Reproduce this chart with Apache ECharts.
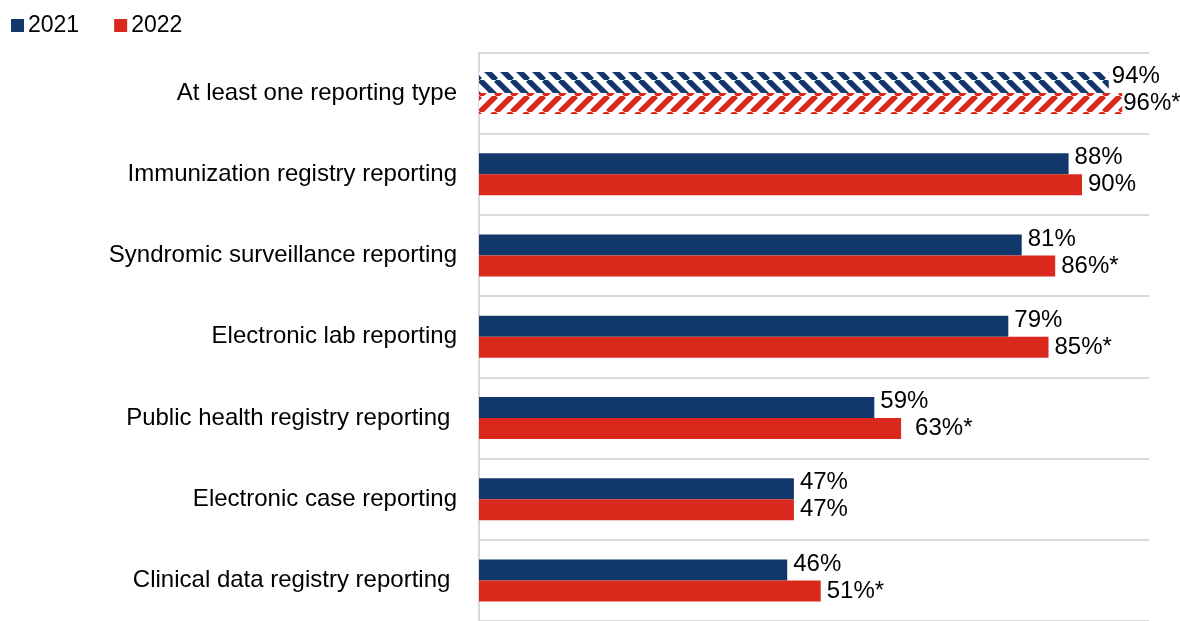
<!DOCTYPE html>
<html lang="en">
<head>
    <meta charset="UTF-8">
    <title>Public health reporting 2021 vs 2022</title>
    <style>
        html, body {
            margin: 0;
            padding: 0;
            width: 100%;
            height: 100%;
            background: #fff;
        }
        #main {
            width: 1180px;
            height: 621px;
        }
    </style>
</head>
<body>
    <div id="main"></div>
    <script src="https://cdn.jsdelivr.net/npm/echarts@6/dist/echarts.min.js"></script>
    <script>
        var categories = [
            'At least one reporting type',
            'Immunization registry reporting',
            'Syndromic surveillance reporting',
            'Electronic lab reporting',
            'Public health registry reporting ',
            'Electronic case reporting',
            'Clinical data registry reporting '
        ];
        var years = ['2021', '2022'];
        var values2021 = [94, 88, 81, 79, 59, 47, 46];
        var values2022 = [96, 90, 86, 85, 63, 47, 51];
        var sig2022 = [true, false, true, true, true, false, true];

        var NAVY = '#12386b';
        var RED = '#da291c';
        var FONT = '"Liberation Sans", Arial, sans-serif';

        // diagonal stripes for the "at least one" row
        function hatch(color, dir) {
            var c = document.createElement('canvas');
            c.width = 16;
            c.height = 16;
            var ctx = c.getContext('2d');
            ctx.fillStyle = '#fff';
            ctx.fillRect(0, 0, 16, 16);
            ctx.strokeStyle = color;
            ctx.lineWidth = 5.5;
            for (var k = -1; k <= 1; k++) {
                ctx.beginPath();
                if (dir > 0) {
                    ctx.moveTo(k * 16, 0);
                    ctx.lineTo(k * 16 + 16, 16);
                } else {
                    ctx.moveTo(k * 16, 16);
                    ctx.lineTo(k * 16 + 16, 0);
                }
                ctx.stroke();
            }
            return { image: c, repeat: 'repeat' };
        }

        function buildData(values, color, dir, sig) {
            return values.map(function (v, i) {
                var item = { value: v, sig: sig ? sig[i] : false };
                if (i === 0) item.itemStyle = { color: hatch(color, dir) };
                return item;
            });
        }

        var data2021 = buildData(values2021, NAVY, 1, null);
        var data2022 = buildData(values2022, RED, -1, sig2022);
        data2021[0].label = { distance: 3 };
        data2022[0].label = { distance: 1 };
        data2022[4].label = { distance: 14 };

        var myChart = echarts.init(document.getElementById('main'));
        var option = {
            backgroundColor: '#fff',
            animation: false,
            textStyle: { fontFamily: FONT },
            legend: {
                data: years,
                left: 11,
                top: 14,
                padding: 0,
                icon: 'rect',
                itemWidth: 13,
                itemHeight: 13,
                itemGap: 35,
                textStyle: { fontSize: 23, color: '#000', fontFamily: FONT, padding: [0, 0, 0, -1] }
            },
            grid: {
                left: 479,
                right: 31,
                top: 52.5,
                height: 574,
                containLabel: false
            },
            xAxis: {
                type: 'value',
                min: 0,
                max: 100,
                show: false
            },
            yAxis: {
                type: 'category',
                inverse: true,
                data: categories,
                axisLine: { show: true, lineStyle: { color: '#d9d9d9', width: 2 } },
                axisTick: { show: false },
                splitLine: { show: true, lineStyle: { color: '#d9d9d9', width: 2 } },
                axisLabel: {
                    margin: 22,
                    fontSize: 24,
                    color: '#000',
                    fontFamily: FONT
                }
            },
            series: [
                {
                    name: '2021',
                    type: 'bar',
                    data: data2021,
                    barWidth: 21,
                    barGap: '0%',
                    itemStyle: { color: NAVY },
                    label: {
                        show: true,
                        position: 'right',
                        distance: 6,
                        offset: [0, -6],
                        fontSize: 24,
                        color: '#000',
                        fontFamily: FONT,
                        formatter: function (p) { return p.value + '%'; }
                    }
                },
                {
                    name: '2022',
                    type: 'bar',
                    data: data2022,
                    barWidth: 21,
                    barGap: '0%',
                    itemStyle: { color: RED },
                    label: {
                        show: true,
                        position: 'right',
                        distance: 6,
                        offset: [0, 0],
                        fontSize: 24,
                        color: '#000',
                        fontFamily: FONT,
                        formatter: function (p) { return p.value + '%' + (p.data.sig ? '*' : ''); }
                    }
                }
            ]
        };
        myChart.setOption(option);
    </script>
</body>
</html>
